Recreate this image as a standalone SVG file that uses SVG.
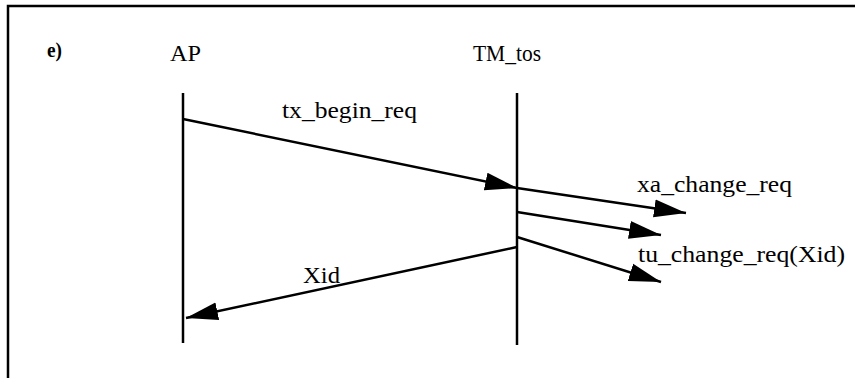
<svg xmlns="http://www.w3.org/2000/svg" width="855" height="378" viewBox="0 0 855 378">
<style>
text{font-family:"Liberation Serif","DejaVu Serif",serif;font-size:23px;fill:#000}
.life{stroke:#000;stroke-width:2.5;fill:none}
.msg{stroke:#000;stroke-width:2.5;fill:none;marker-end:url(#ah)}
.frame{stroke:#000;stroke-width:2.5;fill:none}
</style>
<defs>
<marker id="ah" markerUnits="userSpaceOnUse" markerWidth="34" markerHeight="20" refX="32" refY="10" orient="auto" viewBox="0 0 34 20">
<path d="M0,1 L32,10 L0,19 z" fill="#000"/>
</marker>
</defs>
<g id="frame"><path class="frame" d="M8,378 L8,6 L855,6"/></g>
<text id="label-e" x="47" y="57" style="font-size:21px;font-weight:bold" textLength="15" lengthAdjust="spacingAndGlyphs">e)</text>
<g id="AP">
<text x="170" y="61" textLength="31" lengthAdjust="spacingAndGlyphs">AP</text>
<line class="life" x1="183" y1="93" x2="183" y2="343"/>
</g>
<g id="TM_tos">
<text x="473" y="61" textLength="68" lengthAdjust="spacingAndGlyphs">TM_tos</text>
<line class="life" x1="517" y1="93" x2="517" y2="345"/>
</g>
<g id="connectors">
<line class="msg" x1="183" y1="119" x2="517" y2="188"/>
<line class="msg" x1="517" y1="188" x2="686" y2="213"/>
<line class="msg" x1="517" y1="212" x2="661" y2="235"/>
<line class="msg" x1="517" y1="237" x2="661" y2="282"/>
<line class="msg" x1="517" y1="247" x2="186" y2="318"/>
<text x="282" y="118" textLength="135" lengthAdjust="spacingAndGlyphs">tx_begin_req</text>
<text x="637" y="192" textLength="155" lengthAdjust="spacingAndGlyphs">xa_change_req</text>
<text x="638" y="262" textLength="207" lengthAdjust="spacingAndGlyphs">tu_change_req(Xid)</text>
<text x="303" y="283" textLength="37" lengthAdjust="spacingAndGlyphs">Xid</text>
</g>
</svg>
